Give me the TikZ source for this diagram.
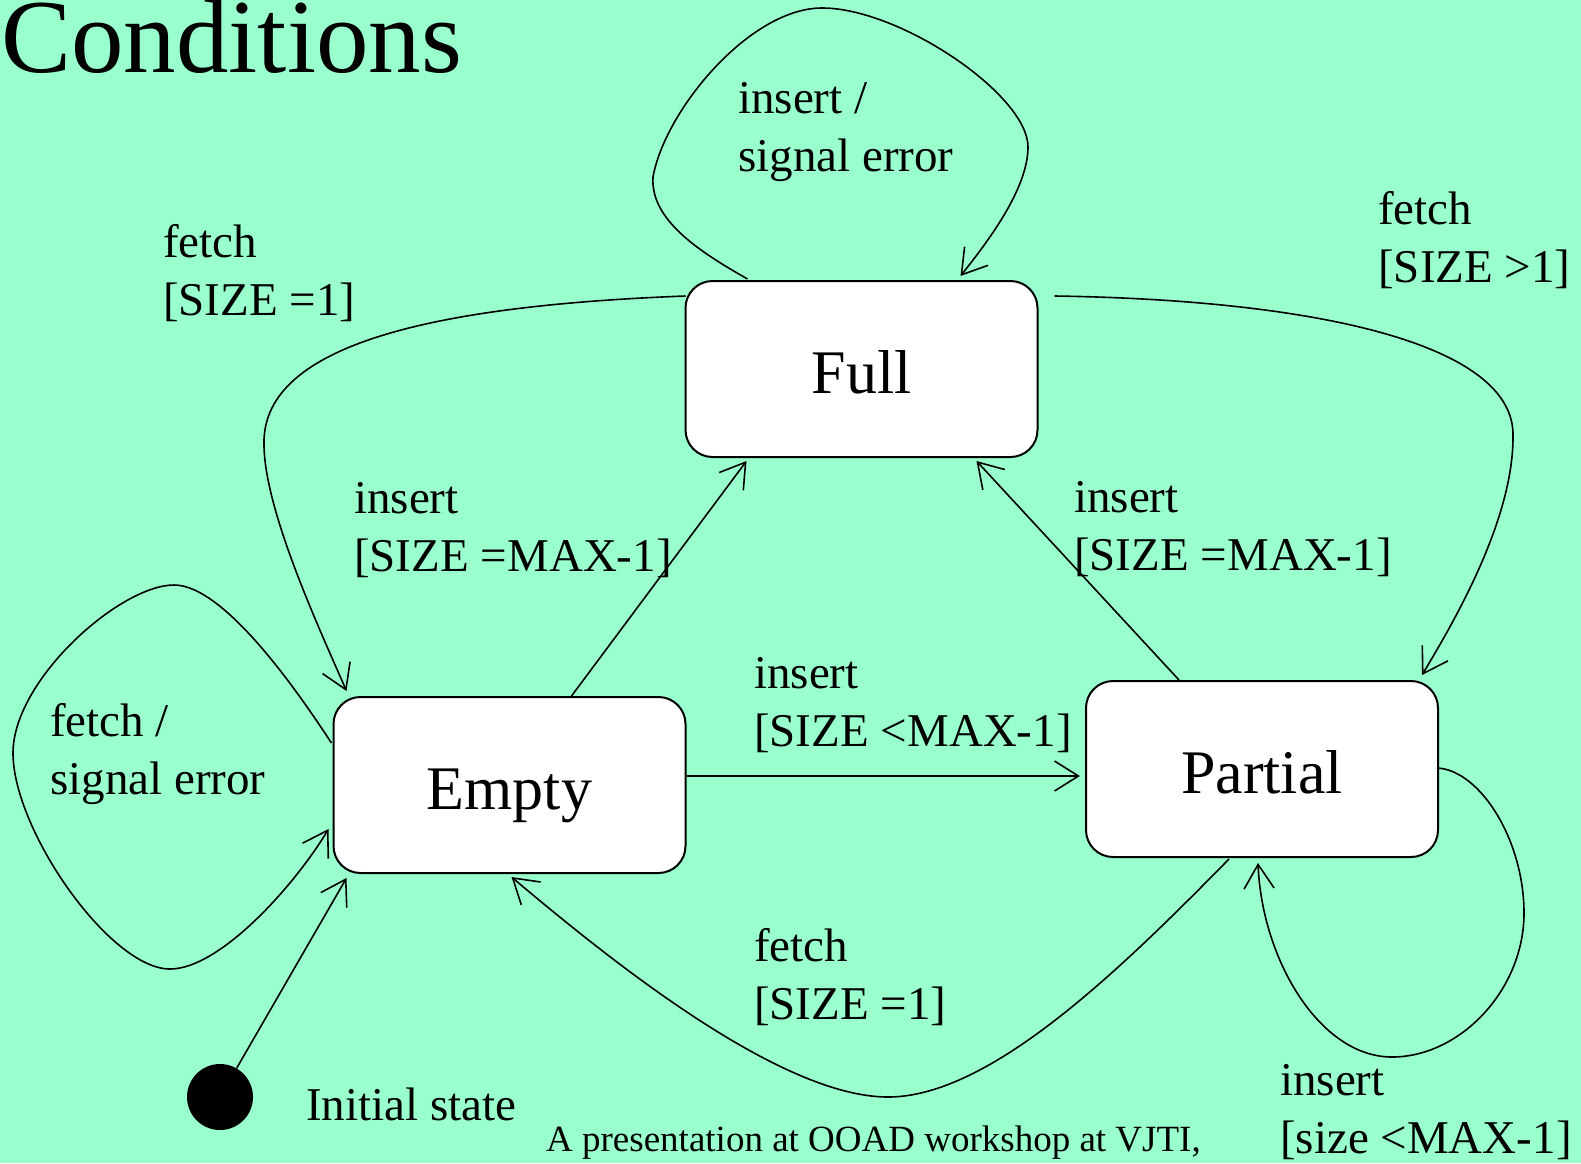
\documentclass[tikz,border=0pt]{standalone}
\usepackage{fontspec}
\setmainfont{Liberation Serif}
\usetikzlibrary{arrows.meta,calc}
\definecolor{mint}{RGB}{153,255,204}
\begin{document}
\begin{tikzpicture}[x=1pt,y=-1pt,
  statebox/.style={draw,line width=2pt,fill=white,rounded corners=27pt,
    minimum width=352pt,minimum height=176pt,inner sep=0pt,
    font={\fontsize{62}{70}\selectfont},text height=48pt,text depth=0pt},
  lbl/.style={anchor=base west,align=left,inner sep=0pt,
    font={\fontsize{47}{58}\selectfont}},
  conn/.style={line width=1.6pt,-{Straight Barb[length=24pt,width=30pt,line width=1.6pt]}},
  plain/.style={line width=1.6pt}]
\useasboundingbox (0,0) rectangle (1581,1163);
\fill[mint] (0,0) rectangle (1581,1163);

% title
\node[anchor=base west,inner sep=0pt,font={\fontsize{105}{120}\selectfont}] (title) at (1,72) {Conditions};

% states
\node[statebox] (full) at (861.5,369) {Full};
\node[statebox] (empty) at (509.5,785) {Empty};
\node[statebox] (partial) at (1262,769) {Partial};
\node[circle,fill=black,minimum size=66pt,inner sep=0pt] (init) at (220,1097) {};

% coordinates on the states
\coordinate (fl1) at ($(full.north west)+(63,-1)$);
\coordinate (fl2) at ($(full.north west)+(276,-4)$);
\coordinate (fe1) at ($(full.north west)+(1,16)$);
\coordinate (fe2) at ($(empty.north west)+(14,-5)$);
\coordinate (fp1) at ($(full.north east)+(16,16)$);
\coordinate (fp2) at ($(partial.north east)+(-17,-5)$);
\coordinate (ef1) at ($(empty.north west)+(239,0)$);
\coordinate (ef2) at ($(full.south west)+(62,3)$);
\coordinate (pf1) at ($(partial.north west)+(94,0)$);
\coordinate (pf2) at ($(full.south west)+(292,3)$);
\coordinate (ep1) at ($(empty.east)+(0,-9)$);
\coordinate (ep2) at ($(partial.west)+(-5,7)$);
\coordinate (pe1) at ($(partial.south)+(-33,1)$);
\coordinate (pe2) at ($(empty.south)+(2,3)$);
\coordinate (el1) at ($(empty.west)+(-1,-42)$);
\coordinate (el2) at ($(empty.west)+(-4,44)$);
\coordinate (pl1) at ($(partial.east)+(-2,-1)$);
\coordinate (pl2) at ($(partial.south)+(-4,5)$);
\coordinate (it) at ($(empty.south west)+(14,4)$);

% Full self loop
\draw[conn] (fl1) .. controls (700,252) and (650,220) .. (653,177)
  .. controls (665,110) and (750,8) .. (822,8)
  .. controls (900,8) and (1028,95) .. (1028,147)
  .. controls (1028,190) and (985,245) .. (fl2);
% Full -> Empty (fetch [SIZE =1])
\draw[conn] (fe1) .. controls (450,305) and (262,340) .. (264,444)
  .. controls (264,510) and (320,630) .. (fe2);
% Full -> Partial (fetch [SIZE >1])
\draw[conn] (fp1) .. controls (1320,300) and (1516,345) .. (1513,437)
  .. controls (1513,520) and (1455,620) .. (fp2);
% Empty -> Full
\draw[conn] (ef1) -- (ef2);
% Partial -> Full
\draw[conn] (pf1) -- (pf2);
% Empty -> Partial
\draw[conn] (ep1) -- (ep2);
% Partial -> Empty (fetch [SIZE =1])
\draw[conn] (pe1) .. controls (1120,970) and (990,1097) .. (888,1097)
  .. controls (780,1097) and (610,960) .. (pe2);
% Empty self loop
\draw[conn] (el1) .. controls (300,695) and (225,585) .. (174,585)
  .. controls (120,585) and (13,680) .. (13,753)
  .. controls (13,830) and (110,969) .. (170,969)
  .. controls (220,969) and (295,885) .. (el2);
% Partial self loop
\draw[conn] (pl1) .. controls (1480,770) and (1524,840) .. (1524,913)
  .. controls (1524,990) and (1460,1057) .. (1392,1057)
  .. controls (1320,1057) and (1262,960) .. (pl2);
% initial
\draw[conn] (init) -- (it);

% labels (anchored at the baseline of the last line)
\node[lbl] (l1) at (738,171) {insert /\\signal error};
\node[lbl] (l2) at (163,315) {fetch\\{[SIZE =1]}};
\node[lbl] (l3) at (1378,282) {fetch\\{[SIZE >1]}};
\node[lbl] (l4) at (354,571) {insert\\{[SIZE =MAX-1]}};
\node[lbl] (l5) at (1074,570) {insert\\{[SIZE =MAX-1]}};
\node[lbl] (l6) at (754,746) {insert\\{[SIZE <MAX-1]}};
\node[lbl] (l7) at (50,794) {fetch /\\signal error};
\node[lbl] (l8) at (754,1019) {fetch\\{[SIZE =1]}};
\node[lbl] (l9) at (1280,1153) {insert\\{[size <MAX-1]}};
\node[anchor=base west,inner sep=0pt,font={\fontsize{47}{58}\selectfont}] (l10) at (306,1120) {Initial state};
\node[anchor=base west,inner sep=0pt,font={\fontsize{37}{44}\selectfont}] (foot) at (546,1151) {A presentation at OOAD workshop at VJTI,};
\end{tikzpicture}
\end{document}
